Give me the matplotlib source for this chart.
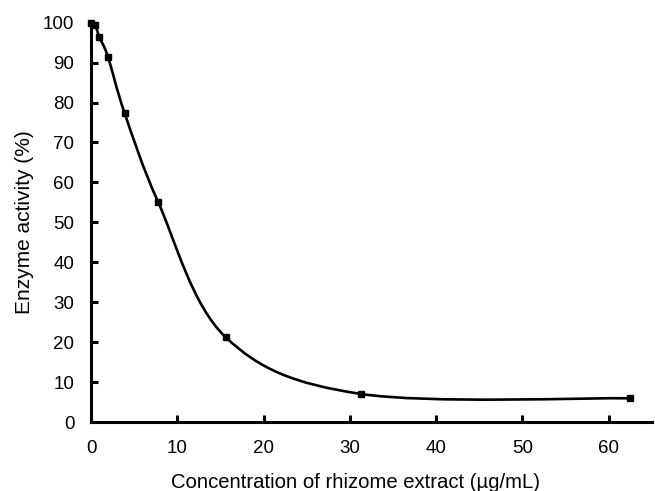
import numpy as np
import matplotlib
matplotlib.use('Agg')
import matplotlib.pyplot as plt
from matplotlib.path import Path
from matplotlib.patches import PathPatch

plt.rcParams['font.family'] = ['Liberation Sans', 'DejaVu Sans']

# 浓度 (µg/mL) 与酶活性 (%)
conc = [0, 0.49, 0.98, 1.95, 3.9, 7.8, 15.6, 31.25, 62.5]
activity = [100, 99.3, 96.3, 91.5, 77.3, 55.0, 21.3, 7.1, 6.0]
xticks = [0, 10, 20, 30, 40, 50, 60]
yticks = list(range(0, 101, 10))

fig = plt.figure(figsize=(6.55, 4.91), dpi=100)
ax = fig.add_axes([0.139, 0.140, 0.856, 0.814])
ax.set_xlim(0, 65)
ax.set_ylim(0, 100)

# Excel 式平滑线: Catmull-Rom -> 三次贝塞尔
x = np.asarray(conc, float)
y = np.asarray(activity, float)
verts = [(x[0], y[0])]
codes = [Path.MOVETO]
n = len(x)
for i in range(n - 1):
    p0 = np.array([x[max(i - 1, 0)], y[max(i - 1, 0)]])
    p1 = np.array([x[i], y[i]])
    p2 = np.array([x[i + 1], y[i + 1]])
    p3 = np.array([x[min(i + 2, n - 1)], y[min(i + 2, n - 1)]])
    c1 = p1 + (p2 - p0) / 6
    c2 = p2 - (p3 - p1) / 6
    verts += [tuple(c1), tuple(c2), tuple(p2)]
    codes += [Path.CURVE4] * 3
ax.add_patch(PathPatch(Path(verts, codes), fc='none', ec='black', lw=1.9,
                       clip_on=False, zorder=3))
ax.plot(conc, activity, ls='none', marker='s', ms=4.8, color='black',
        clip_on=False, zorder=4)

for s in ['top', 'right']:
    ax.spines[s].set_visible(False)
for s in ['left', 'bottom']:
    ax.spines[s].set_linewidth(2.2)
ax.set_xticks(xticks)
ax.set_yticks(yticks)
ax.tick_params(direction='in', length=5, width=2.2, labelsize=13.5)
ax.tick_params(axis='x', pad=13)
ax.tick_params(axis='y', pad=12)
ax.set_xlabel('Concentration of rhizome extract (µg/mL)', fontsize=14.6)
ax.set_ylabel('Enzyme activity (%)', fontsize=15)
ax.xaxis.set_label_coords(0.471, -0.127)
ax.yaxis.set_label_coords(-0.102, 0.5)

fig.savefig('out.png', dpi=100, facecolor='white')
